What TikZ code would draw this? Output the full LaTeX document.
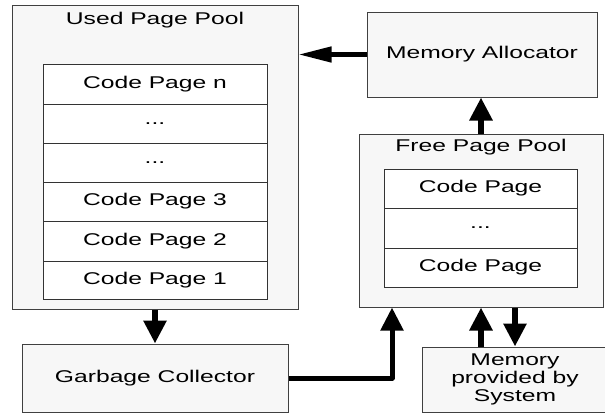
\documentclass[tikz,border=0pt]{standalone}
\usepackage{fontspec}
\newfontfamily\lab[FakeStretch=1.45]{Liberation Sans}
\usetikzlibrary{arrows.meta}
\begin{document}
\begin{tikzpicture}[x=1pt,y=-1pt,
  txt/.style={font=\lab\fontsize{17}{18}\selectfont, text=black},
  box/.style={draw=black!75, fill=black!3, line width=1pt, inner sep=0pt, txt},
  row/.style={draw=black!80, fill=white, line width=1pt, inner sep=0pt, txt},
  lbl/.style={inner sep=0pt, txt},
  varr/.style={line width=6pt, -{Triangle[width=22pt,length=23pt]}},
  harr/.style={line width=4.5pt, -{Triangle[width=15pt,length=33pt]}}
]
\useasboundingbox (0,0) rectangle (605,413);
\fill[white] (0,0) rectangle (605,413);

% Used page pool
\node[box, minimum width=286pt, minimum height=304pt] (used) at (155,157) {};
\node[lbl] (usedt) at (155,20) {Used Page Pool};
\node[row, minimum width=224pt, minimum height=40pt] (u1) at (155,84) {Code Page n};
\node[row, minimum width=224pt, minimum height=39pt] (u2) at (155,123.5) {...};
\node[row, minimum width=224pt, minimum height=39pt] (u3) at (155,162.5) {...};
\node[row, minimum width=224pt, minimum height=39pt] (u4) at (155,201.5) {Code Page 3};
\node[row, minimum width=224pt, minimum height=40pt] (u5) at (155,241) {Code Page 2};
\node[row, minimum width=224pt, minimum height=38pt] (u6) at (155,280) {Code Page 1};

% Memory allocator
\node[box, minimum width=230pt, minimum height=85pt] (ma) at (482,54.5) {Memory Allocator};

% Free page pool
\node[box, minimum width=244pt, minimum height=173pt] (free) at (481,220.5) {};
\node[lbl] (freet) at (481,147) {Free Page Pool};
\node[row, minimum width=193pt, minimum height=39pt] (f1) at (480.5,188.5) {Code Page};
\node[row, minimum width=193pt, minimum height=40pt] (f2) at (480.5,228) {...};
\node[row, minimum width=193pt, minimum height=39pt] (f3) at (480.5,267.5) {Code Page};

% Garbage collector
\node[box, minimum width=266pt, minimum height=68pt] (gc) at (155,378) {Garbage Collector};

% Memory provided by system
\node[box, minimum width=186pt, minimum height=65pt, align=center] (mem) at (515,379.5) {Memory\\provided by\\System};

% connectors
\draw[harr] (ma.west) -- (ma.west -| used.east);
\draw[varr] (free.north) -- (free.north |- ma.south);
\draw[varr] (used.south) -- (gc.north);
\draw[varr, line width=5pt, line join=round] (gc.east) -| ([xshift=-89pt]free.south);
\draw[varr] ([xshift=-34pt]mem.north) -- ([xshift=-34pt]mem.north |- free.south);
\draw[varr] (mem.north |- free.south) -- (mem.north);
\end{tikzpicture}
\end{document}
